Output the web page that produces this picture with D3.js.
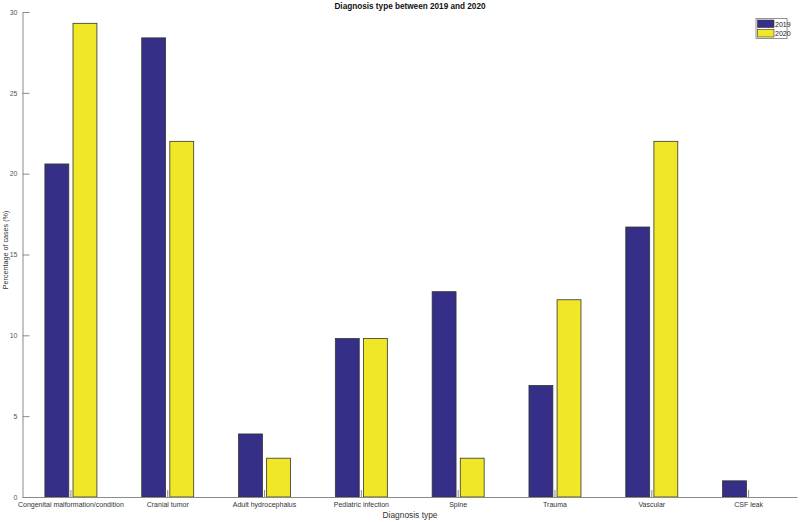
<!DOCTYPE html>
<html lang="en">
  <head>
    <meta charset="utf-8">
    <style>
      body { margin: 0; background: #fff; }
      text { font-family: "Liberation Sans", Arial, sans-serif; }
    </style>
  </head>
  <body>
    <script type="text/javascript" src="https://d3js.org/d3.v7.min.js"></script>
    <script>
      var width = 800,
        height = 522;

      // data
      var categories = ["Congenital malformation/condition", "Cranial tumor", "Adult hydrocephalus",
        "Pediatric infection", "Spine", "Trauma", "Vascular", "CSF leak"];
      var series = ["2019", "2020"];
      var values2019 = [20.6, 28.4, 3.9, 9.8, 12.7, 6.9, 16.7, 1.0];
      var values2020 = [29.3, 22.0, 2.4, 9.8, 2.4, 12.2, 22.0, 0];
      var yTicks = [0, 5, 10, 15, 20, 25, 30];
      var colors = ["#352f87", "#f0e826"];

      var margin = { top: 12, right: 3, bottom: 25, left: 22.5 };
      var innerW = width - margin.left - margin.right,
        innerH = height - margin.top - margin.bottom;

      var svg = d3.select("body")
        .append("svg")
        .attr("width", width)
        .attr("height", height);

      var g = svg.append("g")
        .attr("transform", "translate(" + margin.left + "," + margin.top + ")");

      var x = d3.scaleBand()
        .domain(categories)
        .range([0, innerW]);

      var sub = d3.scaleBand()
        .domain(series)
        .range([-26, 26])
        .paddingInner(0.15);

      var y = d3.scaleLinear()
        .domain([0, 30])
        .range([innerH, 0]);

      // bars
      var rows = categories.map(function (c, i) {
        return { cat: c, vals: [values2019[i], values2020[i]] };
      });

      var groups = g.selectAll(".grp")
        .data(rows)
        .join("g")
        .attr("class", "grp")
        .attr("transform", function (d) {
          return "translate(" + (x(d.cat) + x.bandwidth() / 2) + ",0)";
        });

      // category ticks (inward), visible between the bars
      groups.append("line")
        .attr("y1", innerH)
        .attr("y2", innerH - 7)
        .attr("stroke", "#8a8a8a")
        .attr("stroke-width", 1);

      groups.selectAll("rect")
        .data(function (d) {
          return d.vals.map(function (v, j) { return { s: series[j], v: v, j: j }; });
        })
        .join("rect")
        .attr("x", function (d) { return sub(d.s); })
        .attr("width", sub.bandwidth())
        .attr("y", function (d) { return y(d.v); })
        .attr("height", function (d) { return innerH - y(d.v); })
        .attr("fill", function (d) { return colors[d.j]; })
        .attr("stroke", function (d) { return d.v > 0 ? "#333" : "none"; })
        .attr("stroke-width", 0.8);

      // y axis
      var yAxis = g.append("g")
        .call(d3.axisLeft(y).tickValues(yTicks).tickSizeInner(-7).tickSizeOuter(0).tickPadding(5));
      yAxis.select(".domain").attr("stroke", "#8a8a8a");
      yAxis.selectAll(".tick line").attr("stroke", "#8a8a8a");
      yAxis.selectAll(".tick text")
        .attr("fill", "#555")
        .style("font-size", "7px")
        .style("font-family", "Liberation Sans, Arial, sans-serif");

      // x axis
      var xAxis = g.append("g")
        .attr("transform", "translate(0," + innerH + ")")
        .call(d3.axisBottom(x).tickSize(0).tickSizeOuter(0).tickPadding(5));
      xAxis.select(".domain").attr("stroke", "#8a8a8a");
      xAxis.selectAll(".tick text")
        .attr("fill", "#333")
        .style("font-size", "7px")
        .style("font-family", "Liberation Sans, Arial, sans-serif");

      // title and labels
      svg.append("text")
        .attr("x", 410)
        .attr("y", 9)
        .attr("text-anchor", "middle")
        .style("font-size", "8.2px")
        .style("font-weight", "bold")
        .attr("fill", "#111")
        .text("Diagnosis type between 2019 and 2020");

      svg.append("text")
        .attr("x", 410)
        .attr("y", 518)
        .attr("text-anchor", "middle")
        .style("font-size", "8.4px")
        .attr("fill", "#333")
        .text("Diagnosis type");

      svg.append("text")
        .attr("transform", "translate(8,250) rotate(-90)")
        .attr("text-anchor", "middle")
        .style("font-size", "7.2px")
        .attr("fill", "#333")
        .text("Percentage of cases (%)");

      // legend
      var leg = svg.append("g").attr("transform", "translate(756,18.5)");
      leg.append("rect")
        .attr("width", 31)
        .attr("height", 20)
        .attr("fill", "#fff")
        .attr("stroke", "#777")
        .attr("stroke-width", 0.8);
      series.forEach(function (s, i) {
        leg.append("rect")
          .attr("x", 1.5)
          .attr("y", 1.5 + i * 9.5)
          .attr("width", 16.5)
          .attr("height", 7.5)
          .attr("fill", colors[i])
          .attr("stroke", "#333")
          .attr("stroke-width", 0.6);
        leg.append("text")
          .attr("x", 19)
          .attr("y", 8.3 + i * 9.5)
          .style("font-size", "7px")
          .attr("fill", "#222")
          .text(s);
      });
    </script>
  </body>
</html>
